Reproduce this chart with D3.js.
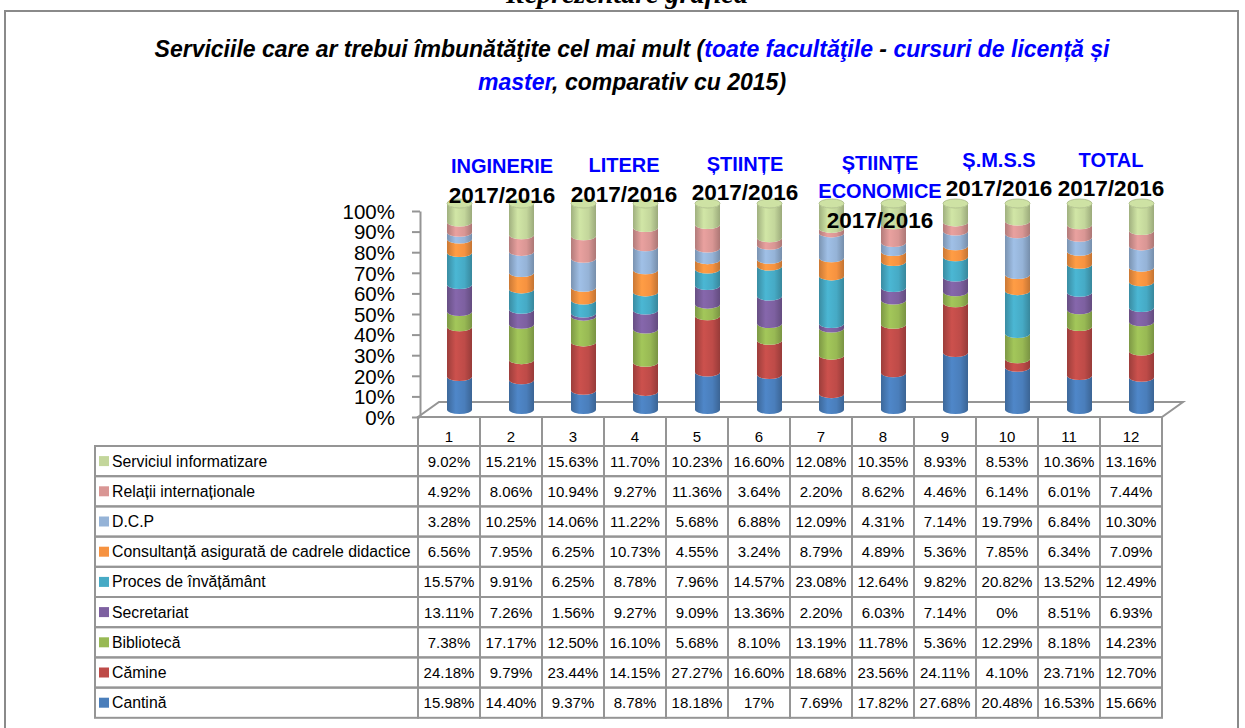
<!DOCTYPE html>
<html>
<head>
<meta charset="utf-8">
<script src="https://cdn.jsdelivr.net/npm/d3@7"></script>
<style>
body { margin: 0; background: #fff; }
svg text { font-family: "Liberation Sans", Arial, sans-serif; fill: #000; }
</style>
</head>
<body>
<div id="chart"></div>
<script>
var columns = ["1", "2", "3", "4", "5", "6", "7", "8", "9", "10", "11", "12"];

// bottom -> top, as stacked in the cylinders
var series = ["Cantină", "Cămine", "Bibliotecă", "Secretariat", "Proces de învățământ",
              "Consultanță asigurată de cadrele didactice", "D.C.P", "Relații internaționale",
              "Serviciul informatizare"];

var cantina       = [15.98, 14.40, 9.37, 8.78, 18.18, 17, 7.69, 17.82, 27.68, 20.48, 16.53, 15.66];
var camine        = [24.18, 9.79, 23.44, 14.15, 27.27, 16.60, 18.68, 23.56, 24.11, 4.10, 23.71, 12.70];
var biblioteca    = [7.38, 17.17, 12.50, 16.10, 5.68, 8.10, 13.19, 11.78, 5.36, 12.29, 8.18, 14.23];
var secretariat   = [13.11, 7.26, 1.56, 9.27, 9.09, 13.36, 2.20, 6.03, 7.14, 0, 8.51, 6.93];
var proces        = [15.57, 9.91, 6.25, 8.78, 7.96, 14.57, 23.08, 12.64, 9.82, 20.82, 13.52, 12.49];
var consultanta   = [6.56, 7.95, 6.25, 10.73, 4.55, 3.24, 8.79, 4.89, 5.36, 7.85, 6.34, 7.09];
var dcp           = [3.28, 10.25, 14.06, 11.22, 5.68, 6.88, 12.09, 4.31, 7.14, 19.79, 6.84, 10.30];
var relatii       = [4.92, 8.06, 10.94, 9.27, 11.36, 3.64, 2.20, 8.62, 4.46, 6.14, 6.01, 7.44];
var informatizare = [9.02, 15.21, 15.63, 11.70, 10.23, 16.60, 12.08, 10.35, 8.93, 8.53, 10.36, 13.16];

var values = [cantina, camine, biblioteca, secretariat, proces, consultanta, dcp, relatii, informatizare];

var colors = ["#4A7EBB", "#BE4B48", "#98B954", "#7D60A0", "#46AAC5", "#F69240", "#95B3D7", "#D99694", "#C3D69B"];

var yTicks = [0, 0.1, 0.2, 0.3, 0.4, 0.5, 0.6, 0.7, 0.8, 0.9, 1];

var groups = [["INGINERIE"], ["LITERE"], ["ȘTIINȚE"], ["ȘTIINȚE", "ECONOMICE"], ["Ș.M.S.S"], ["TOTAL"]];
var groupYear = "2017/2016";

var titleLines = [
    [{t: "Serviciile care ar trebui îmbunătăţite cel mai mult (", blue: false},
     {t: "toate facultăţile", blue: true},
     {t: " - ", blue: false},
     {t: "cursuri de licență și", blue: true}],
    [{t: "master", blue: true},
     {t: ", comparativ cu 2015)", blue: false}]
];

// layout
var width = 1245, height = 728;
var depthX = 21, depthY = -15;
var r = 12.5, ry = 4.5;
var tableLeft = 95, headTop = 417, headBottom = 446, rowH = 30.2;
var gridColor = "#959595";

var svg = d3.select("#chart").append("svg").attr("width", width).attr("height", height);

// outer frame + cut heading
svg.append("rect")
    .attr("x", 5).attr("y", 11).attr("width", 1233).attr("height", 740)
    .attr("fill", "none").attr("stroke", "#8a8a8a").attr("stroke-width", 2);

svg.append("text")
    .attr("x", 627).attr("y", 3)
    .attr("text-anchor", "middle")
    .style("font-family", "'Liberation Serif', 'Times New Roman', serif")
    .style("font-weight", "bold").style("font-style", "italic").style("font-size", "28px")
    .text("Reprezentare grafică");

titleLines.forEach(function(line, i){
    var t = svg.append("text")
        .attr("x", 632).attr("y", 57 + i * 33)
        .attr("text-anchor", "middle")
        .style("font-weight", "bold").style("font-style", "italic").style("font-size", "23px");
    line.forEach(function(p){
        t.append("tspan").style("fill", p.blue ? "#0000FF" : "#000").text(p.t);
    });
});

var x = d3.scaleBand().domain(columns).range([418, 1162]).paddingInner(0).paddingOuter(0);
var y = d3.scaleLinear().domain([0, 1]).range([417, 211]);
var bw = x.bandwidth();

// stack data
var rows = columns.map(function(c, i){
    var o = {col: c};
    series.forEach(function(s, k){ o[s] = values[k][i]; });
    return o;
});
var stacked = d3.stack().keys(series).offset(d3.stackOffsetExpand)(rows);

// gradients for the cylinders
var defs = svg.append("defs");
colors.forEach(function(c, k){
    var g = defs.append("linearGradient").attr("id", "cyl" + k)
        .attr("x1", "0").attr("x2", "1").attr("y1", "0").attr("y2", "0");
    g.append("stop").attr("offset", "0%").attr("stop-color", d3.color(c).darker(0.55));
    g.append("stop").attr("offset", "35%").attr("stop-color", d3.color(c).brighter(0.2));
    g.append("stop").attr("offset", "70%").attr("stop-color", c);
    g.append("stop").attr("offset", "100%").attr("stop-color", d3.color(c).darker(0.65));
});

// floor
var floorPts = [[x.range()[0], y(0)], [x.range()[1], y(0)],
                [x.range()[1] + depthX, y(0) + depthY], [x.range()[0] + depthX, y(0) + depthY]];
svg.append("polygon")
    .attr("points", floorPts.map(function(p){ return p.join(","); }).join(" "))
    .attr("fill", "none").attr("stroke", gridColor).attr("stroke-width", 2);

// y axis
var yAxis = svg.append("g")
    .attr("transform", "translate(420,0)")
    .call(d3.axisLeft(y).tickValues(yTicks).tickFormat(d3.format(".0%")).tickSize(8).tickSizeOuter(0).tickPadding(17));
yAxis.select(".domain").attr("stroke", gridColor).attr("stroke-width", 2);
yAxis.selectAll(".tick line").attr("stroke", gridColor).attr("stroke-width", 2);
yAxis.selectAll(".tick text").style("font-size", "20.5px").attr("font-family", null).attr("dy", "0.36em");

function segPath(cx, yb, yt){
    return "M" + (cx - r) + "," + yt +
        " L" + (cx - r) + "," + yb +
        " A" + r + "," + ry + " 0 0,0 " + (cx + r) + "," + yb +
        " L" + (cx + r) + "," + yt +
        " A" + r + "," + ry + " 0 0,1 " + (cx - r) + "," + yt + " Z";
}

var cylG = svg.append("g");
stacked.forEach(function(layer, k){
    cylG.selectAll(".seg" + k)
        .data(layer)
        .enter()
        .append("path")
        .attr("fill", "url(#cyl" + k + ")")
        .attr("d", function(d){
            var cx = x(d.data.col) + bw / 2 + depthX / 2;
            return segPath(cx, y(d[0]) + depthY / 2, y(d[1]) + depthY / 2);
        });
});
// top caps
cylG.selectAll(".cap")
    .data(columns)
    .enter()
    .append("ellipse")
    .attr("cx", function(d){ return x(d) + bw / 2 + depthX / 2; })
    .attr("cy", y(1) + depthY / 2)
    .attr("rx", r).attr("ry", ry)
    .attr("fill", d3.color(colors[colors.length - 1]).brighter(0.15))
    .attr("stroke", d3.color(colors[colors.length - 1]).darker(0.4))
    .attr("stroke-width", 0.8);

// group labels above the cylinders
var labelShift = [[11.5, 173, 203], [9.5, 172, 202], [6.5, 171, 200], [17.5, 170, 228], [12.5, 167, 196], [0.5, 167, 196]];
groups.forEach(function(lines, g){
    var cx = (x(columns[2 * g]) + x(columns[2 * g + 1]) + bw) / 2 + depthX / 2 + labelShift[g][0];
    lines.forEach(function(l, j){
        svg.append("text")
            .attr("x", cx).attr("y", labelShift[g][1] + j * 28)
            .attr("text-anchor", "middle")
            .style("font-weight", "bold").style("font-size", "20px").style("fill", "#0000FF")
            .text(l);
    });
    svg.append("text")
        .attr("x", cx).attr("y", labelShift[g][2])
        .attr("text-anchor", "middle")
        .style("font-weight", "bold").style("font-size", "22.5px")
        .text(groupYear);
});

// data table
var table = svg.append("g");
var fmt = function(v){ return (Number.isInteger(v) ? v : v.toFixed(2)) + "%"; };

table.selectAll(".head")
    .data(columns)
    .enter()
    .append("rect")
    .attr("x", function(d){ return x(d); })
    .attr("y", headTop).attr("width", bw).attr("height", headBottom - headTop)
    .attr("fill", "none").attr("stroke", gridColor).attr("stroke-width", 2);
table.selectAll(".headText")
    .data(columns)
    .enter()
    .append("text")
    .attr("x", function(d){ return x(d) + bw / 2; })
    .attr("y", headBottom - 4)
    .attr("text-anchor", "middle").style("font-size", "15px")
    .text(function(d){ return d; });

var order = d3.range(series.length).reverse();
order.forEach(function(k, ri){
    var top = headBottom + ri * rowH;
    table.append("rect")
        .attr("x", tableLeft).attr("y", top).attr("width", x.range()[0] - tableLeft).attr("height", rowH)
        .attr("fill", "none").attr("stroke", gridColor).attr("stroke-width", 2);
    table.append("rect")
        .attr("x", tableLeft + 4).attr("y", top + rowH / 2 - 5).attr("width", 10).attr("height", 10)
        .attr("fill", colors[k]);
    table.append("text")
        .attr("x", tableLeft + 17).attr("y", top + rowH / 2 + 5.5)
        .style("font-size", "15.8px")
        .text(series[k]);
    columns.forEach(function(c, i){
        table.append("rect")
            .attr("x", x(c)).attr("y", top).attr("width", bw).attr("height", rowH)
            .attr("fill", "none").attr("stroke", gridColor).attr("stroke-width", 2);
        table.append("text")
            .attr("x", x(c) + bw / 2).attr("y", top + rowH / 2 + 5.5)
            .attr("text-anchor", "middle").style("font-size", "15px")
            .text(fmt(values[k][i]));
    });
});
</script>
</body>
</html>
